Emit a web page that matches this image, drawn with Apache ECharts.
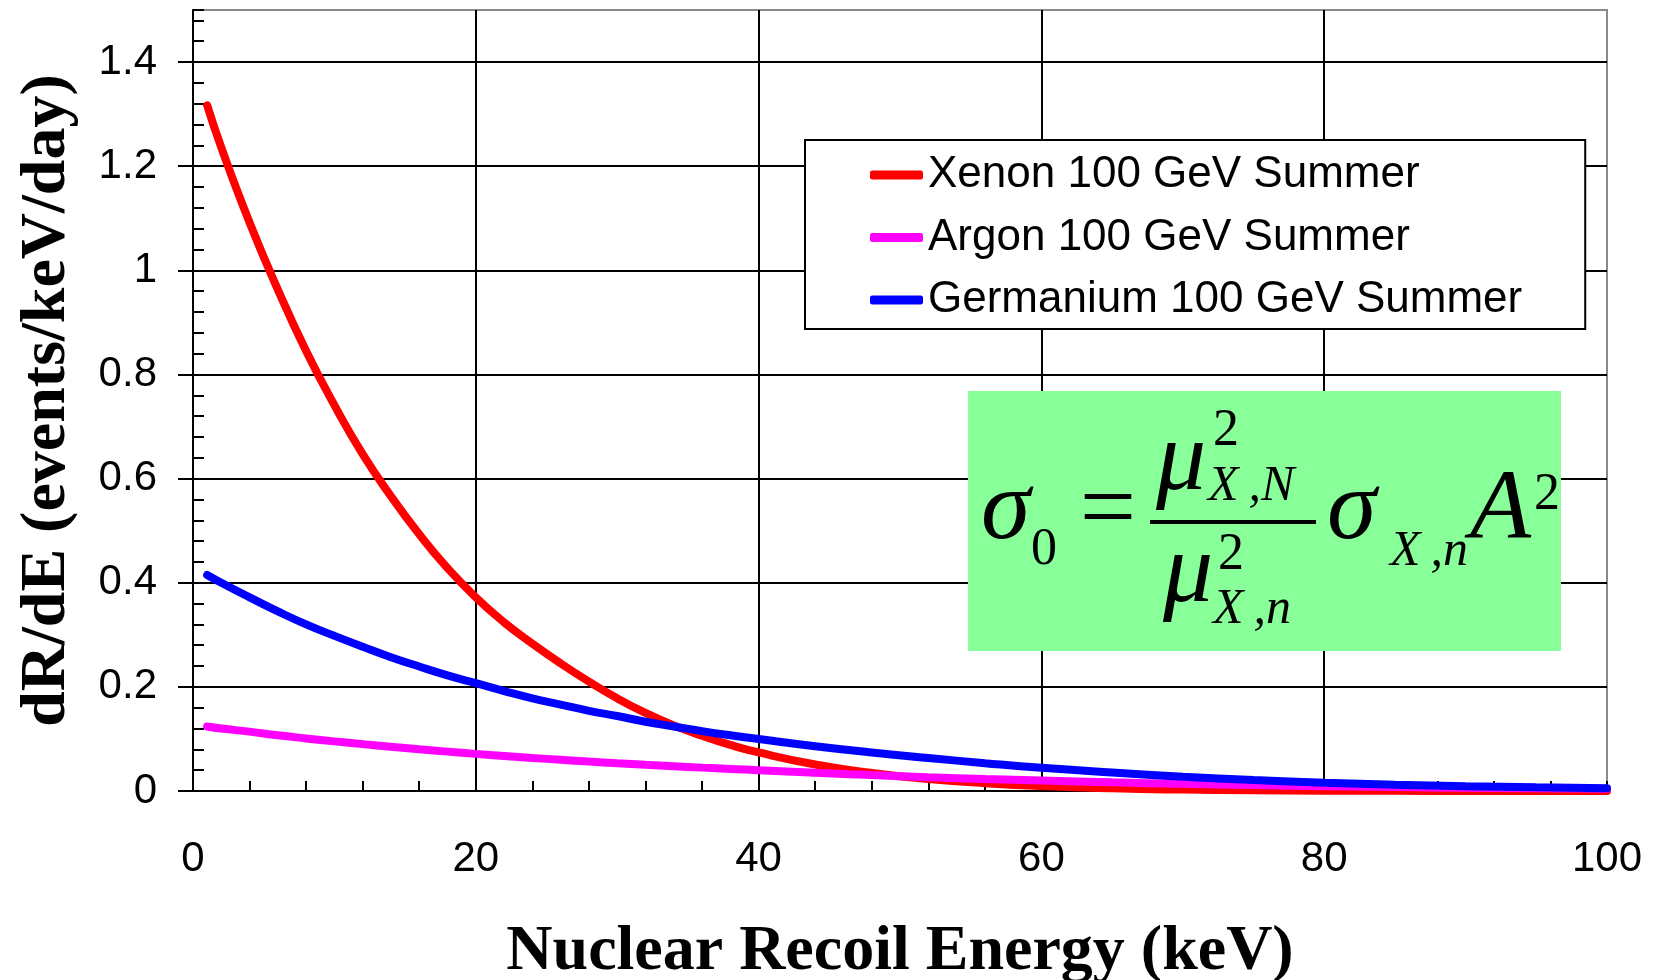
<!DOCTYPE html>
<html><head><meta charset="utf-8">
<script src="https://cdn.jsdelivr.net/npm/echarts@6/dist/echarts.min.js"></script>
<style>html,body{margin:0;padding:0;background:#fff}#c{width:1654px;height:980px}</style>
</head><body><div id="c"></div>
<script>
const energies  = [1, 2, 4, 6, 8, 10, 12, 14, 16, 18, 20, 22, 24, 26, 28, 30, 32, 34, 36, 38, 40, 44, 48, 52, 56, 60, 65, 70, 75, 80, 85, 90, 95, 100];
const xenon     = [1.317, 1.236, 1.092, 0.963, 0.845, 0.741, 0.647, 0.566, 0.493, 0.428, 0.372, 0.324, 0.283, 0.245, 0.210, 0.178, 0.150, 0.126, 0.106, 0.0885, 0.074, 0.051, 0.0345, 0.023, 0.015, 0.0096, 0.0052, 0.0027, 0.0014, 0.0007, 0.0003, 0.00015, 0.00008, 0.00004];
const argon     = [0.124, 0.120, 0.114, 0.107, 0.101, 0.0953, 0.090, 0.0849, 0.0801, 0.0756, 0.0713, 0.0673, 0.0635, 0.060, 0.0566, 0.0534, 0.0504, 0.0476, 0.0449, 0.0424, 0.040, 0.035, 0.0305, 0.0265, 0.023, 0.020, 0.0166, 0.0137, 0.0113, 0.0093, 0.0077, 0.0063, 0.0052, 0.0043];
const germanium = [0.415, 0.400, 0.372, 0.345, 0.320, 0.298, 0.277, 0.257, 0.239, 0.222, 0.207, 0.192, 0.178, 0.166, 0.154, 0.144, 0.133, 0.124, 0.115, 0.107, 0.0998, 0.086, 0.074, 0.0635, 0.0535, 0.0445, 0.0355, 0.0275, 0.021, 0.016, 0.0122, 0.0092, 0.007, 0.0053];
const seriesNames  = ['Xenon 100 GeV Summer', 'Argon 100 GeV Summer', 'Germanium 100 GeV Summer'];
const seriesColors = ['#ff0000', '#ff00ff', '#0000ff'];
const xTitle = 'Nuclear Recoil Energy (keV)';
const yTitle = 'dR/dE (events/keV/day)';

const chart = echarts.init(document.getElementById('c'), null, {renderer: 'canvas'});
const pair = arr => energies.map((e, i) => [e, arr[i]]);
const allSeries = [xenon, argon, germanium].map((arr, i) => ({
  name: seriesNames[i], type: 'line', data: pair(arr), smooth: true, showSymbol: false,
  symbol: 'none', color: seriesColors[i], lineStyle: {width: 8, color: seriesColors[i], cap: 'round'},
  clip: true, z: 3 + i
}));

const serif = 'Liberation Serif, Times New Roman, serif';
const fT = (text, x, y, size, italic, align) => ({
  type: 'text', x: x, y: y, z: 102,
  style: {text: text, fontFamily: serif, fontSize: size, fontStyle: italic ? 'italic' : 'normal',
          fill: '#000', align: align || 'left', verticalAlign: 'middle'}
});
const TS = '\u2009';

chart.setOption({
  animation: false,
  backgroundColor: '#fff',
  grid: {left: 193, right: 47, top: 10, bottom: 189, outerBoundsMode: 'none', containLabel: false,
         show: true, borderColor: '#8a8a8a', borderWidth: 2, backgroundColor: 'transparent'},
  legend: {
    orient: 'vertical', left: 805, top: 140,
    padding: [13, 63, 7, 65], itemGap: 18.5,
    itemWidth: 53, itemHeight: 9, icon: 'roundRect',
    backgroundColor: '#fff', borderColor: '#000', borderWidth: 2,
    textStyle: {fontFamily: 'Liberation Sans, Arial, sans-serif', fontSize: 44, color: '#000', lineHeight: 44},
    data: seriesNames
  },
  xAxis: {
    type: 'value', min: 0, max: 100, interval: 20,
    name: xTitle, nameLocation: 'middle', nameGap: 129,
    nameTextStyle: {fontFamily: serif, fontWeight: 'bold', fontSize: 64, color: '#000'},
    axisLine: {show: true, lineStyle: {color: '#000', width: 2}},
    axisTick: {show: true, inside: true, length: 10, lineStyle: {color: '#000', width: 2}},
    minorTick: {show: true, splitNumber: 5, length: 10, lineStyle: {color: '#000', width: 2}},
    axisLabel: {margin: 47, fontFamily: 'Liberation Sans, Arial, sans-serif', fontSize: 42, color: '#000'},
    splitLine: {show: true, showMaxLine: false, lineStyle: {color: '#000', width: 2}}
  },
  yAxis: [{
    type: 'value', min: 0, max: 1.5, interval: 0.2,
    name: yTitle, nameLocation: 'middle', nameGap: 114,
    nameTextStyle: {fontFamily: serif, fontWeight: 'bold', fontSize: 64, color: '#000'},
    axisLine: {show: true, lineStyle: {color: '#000', width: 2}},
    axisTick: {show: true, inside: false, length: 15, lineStyle: {color: '#000', width: 2}},
    axisLabel: {margin: 36, showMaxLabel: false, fontFamily: 'Liberation Sans, Arial, sans-serif', fontSize: 42, color: '#000'},
    splitLine: {show: true, showMaxLine: false, lineStyle: {color: '#000', width: 2}}
  }, {
    type: 'value', min: 0, max: 1.5, interval: 0.04, position: 'left',
    axisLine: {show: false}, axisLabel: {show: false}, splitLine: {show: false},
    axisTick: {show: true, inside: true, length: 11, lineStyle: {color: '#000', width: 2}}
  }],
  series: allSeries,
  graphic: [
    {type: 'rect', z: 100, shape: {x: 968, y: 391, width: 593, height: 260}, style: {fill: '#88ff99'}},
    fT('σ', 981, 512, 100, true),
    fT('0', 1031, 550, 52, false),
    fT('=', 1108, 514, 100, false, 'center'),
    {type: 'rect', z: 102, shape: {x: 1150, y: 520, width: 166, height: 4}, style: {fill: '#000'}},
    fT('μ', 1156, 463, 100, true),
    fT('2', 1213, 431, 52, false),
    fT('X' + TS + ',N', 1208, 487, 50, true),
    fT('μ', 1163, 575, 100, true),
    fT('2', 1218, 555, 52, false),
    fT('X' + TS + ',n', 1213, 610, 50, true),
    fT('σ', 1327, 512, 100, true),
    fT('X' + TS + ',n', 1390, 552, 50, true),
    fT('A', 1470, 512, 100, true),
    fT('2', 1534, 495, 52, false)
  ]
});
</script></body></html>
